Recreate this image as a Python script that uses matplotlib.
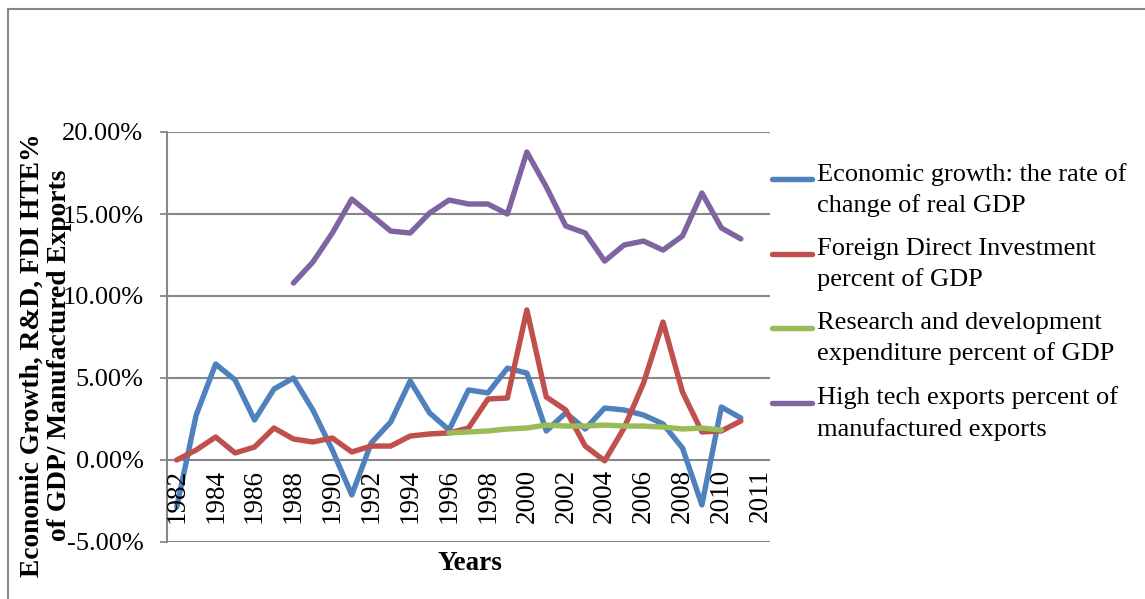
"""Growth, FDI, R&D and high-tech exports line chart."""
import matplotlib
matplotlib.use("Agg")
import matplotlib.pyplot as plt
from matplotlib.lines import Line2D
from matplotlib.patches import Rectangle
from matplotlib.ticker import FuncFormatter

plt.rcParams["font.family"] = ["Liberation Serif", "DejaVu Serif"]

# category axis: 31 slots, labelled every other one
tick_pos = list(range(0, 31, 2))
tick_labels = [str(y) for y in range(1982, 2011, 2)] + ["2011"]

growth = [-2.87, 2.74, 5.85, 4.88, 2.44, 4.33, 5.0, 3.05, 0.61, -2.13,
          1.04, 2.32, 4.82, 2.87, 1.83, 4.27, 4.09, 5.6, 5.3, 1.77,
          2.87, 1.89, 3.17, 3.05, 2.74, 2.2, 0.73, -2.74, 3.23, 2.56]
fdi = [0.0, 0.61, 1.4, 0.43, 0.79, 1.95, 1.28, 1.1, 1.34, 0.49,
       0.85, 0.85, 1.46, 1.59, 1.65, 1.95, 3.72, 3.78, 9.15, 3.84,
       3.05, 0.85, -0.05, 1.95, 4.7, 8.41, 4.15, 1.71, 1.77, 2.38]
rnd_start = 14
rnd = [1.65, 1.71, 1.77, 1.89, 1.95, 2.13, 2.07, 2.07, 2.13, 2.07,
       2.07, 2.01, 1.89, 1.95, 1.83]
hte_start = 6
hte = [10.79, 12.07, 13.84, 15.91, 14.94, 13.96, 13.84, 15.06, 15.85, 15.61,
       15.61, 15.0, 18.78, 16.65, 14.27, 13.84, 12.13, 13.11, 13.35, 12.8,
       13.66, 16.28, 14.15, 13.48]

series = [
    ("Economic growth: the rate of\nchange of real GDP", 0, growth, "#4F81BD"),
    ("Foreign Direct Investment\npercent of GDP", 0, fdi, "#C0504D"),
    ("Research and development\nexpenditure percent of GDP", rnd_start, rnd, "#9BBB59"),
    ("High tech exports percent of\nmanufactured exports", hte_start, hte, "#8064A2"),
]

W, H = 1145, 599
fig = plt.figure(figsize=(W / 100, H / 100), dpi=100)
ax = fig.add_axes([167 / W, 1 - 542 / H, (770 - 167) / W, (542 - 132) / H])

grid_c = "#878787"
for name, start, vals, color in series:
    xs = list(range(start, start + len(vals)))
    ax.plot(xs, vals, color=color, lw=3.9, solid_capstyle="round",
            solid_joinstyle="round", zorder=3)

ax.set_xlim(-0.5, 30.5)
ax.set_ylim(-5, 20)
ax.set_yticks([-5, 0, 5, 10, 15, 20])
ax.yaxis.set_major_formatter(FuncFormatter(lambda v, p: f"{v:.2f}%"))
ax.tick_params(axis="y", labelsize=19, length=5, width=1.3, color=grid_c, pad=12)
ax.set_xticks([])
ax.yaxis.grid(True, color=grid_c, lw=1.5)
ax.set_axisbelow(True)
for s in ["top", "right", "bottom"]:
    ax.spines[s].set_visible(False)
ax.spines["left"].set_color(grid_c)
ax.spines["left"].set_linewidth(1.5)

# year labels sit just under the zero line
for x, lab in zip(tick_pos, tick_labels):
    ax.text(x, -0.55, lab, rotation=90, ha="center", va="top", fontsize=19.5)

fig.text(470 / W, 1 - 563 / H, "Years", ha="center", va="center",
         fontsize=19.5, fontweight="bold")
fig.text(46 / W, 1 - 355 / H,
         "Economic Growth, R&D, FDI HTE%\nof GDP/ Manufactured Exports",
         rotation=90, ha="center", va="center", fontsize=19.8,
         fontweight="bold", multialignment="center", linespacing=1.1)

# legend drawn by hand so each key lines up with its first text line
for i, (name, start, vals, color) in enumerate(series):
    y = 1 - (179 + 74.5 * i) / H
    fig.add_artist(Line2D([772 / W, 812 / W], [y, y], color=color, lw=3.9,
                          solid_capstyle="round"))
    fig.text(817 / W, y + 16 / H, name, ha="left", va="top", fontsize=19,
             linespacing=1.45)

# chart frame
fig.add_artist(Rectangle((8 / W, -0.1), 1.2, 1.1 - 9 / H, transform=fig.transFigure,
                         fill=False, edgecolor="#868686", lw=1.5))

fig.savefig("out.png", dpi=100)
